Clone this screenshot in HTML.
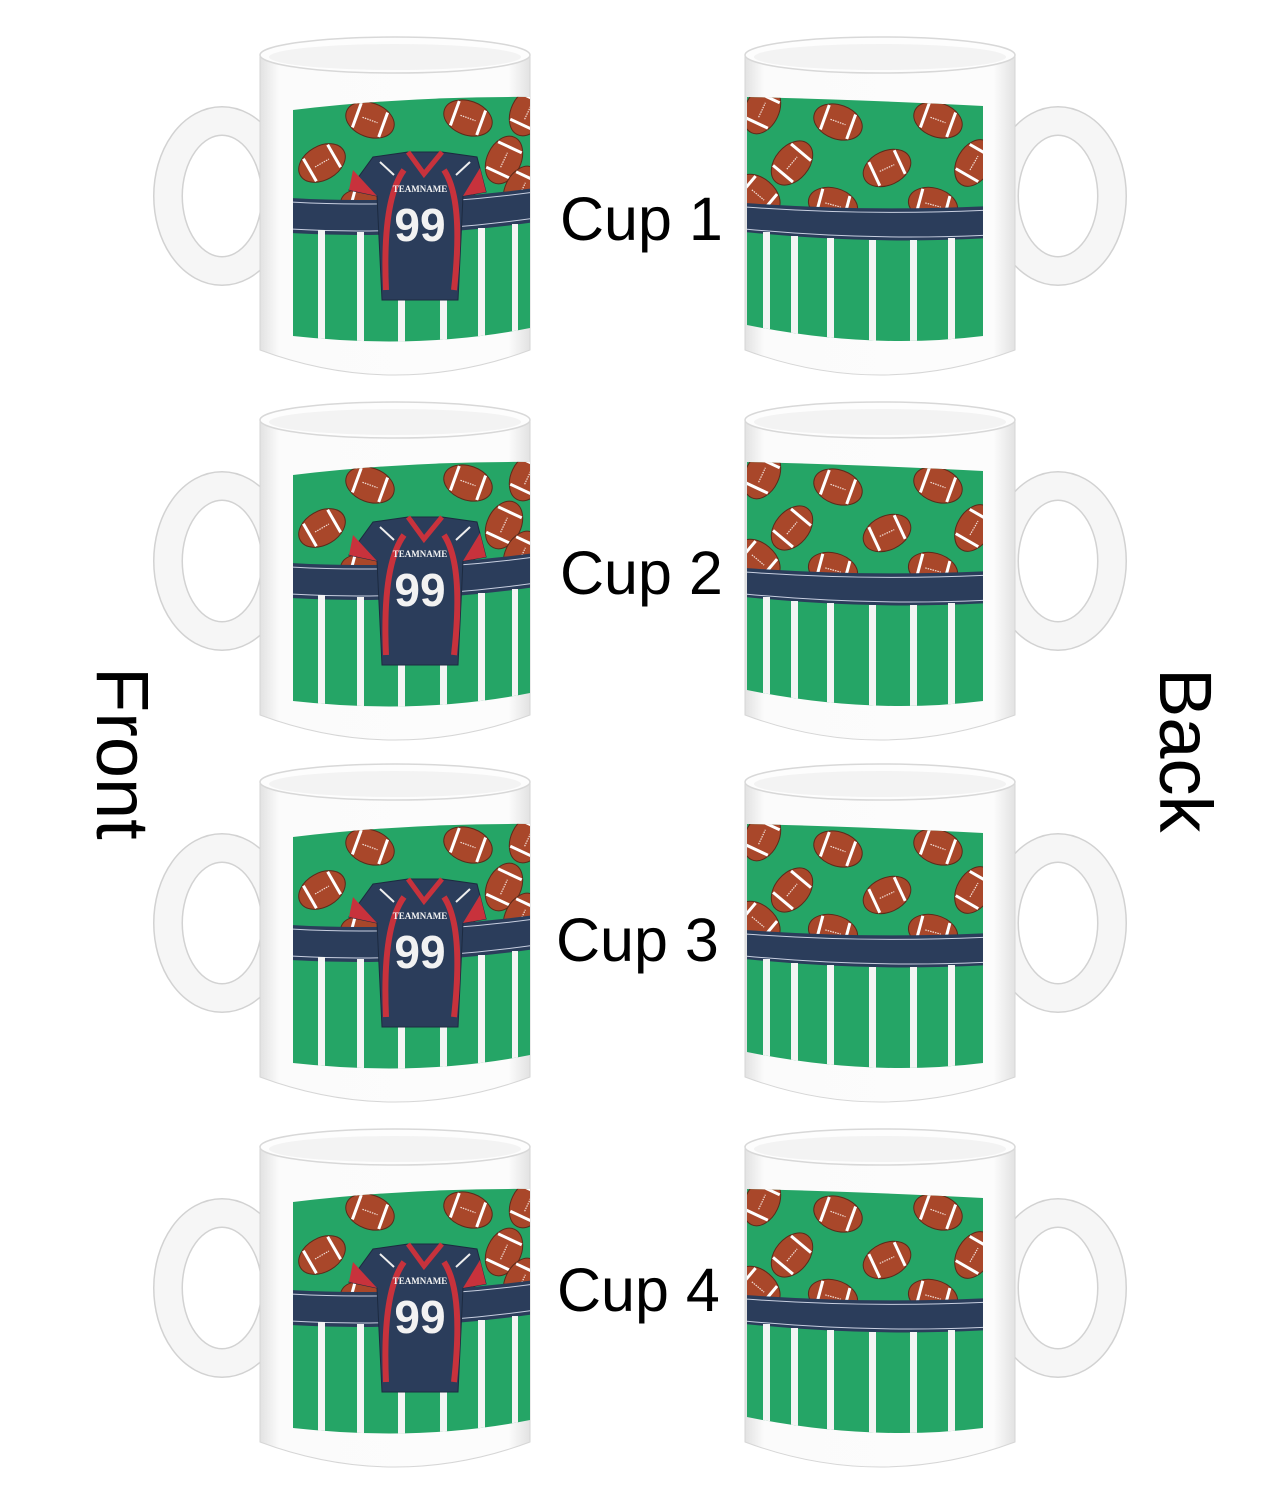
<!DOCTYPE html>
<html><head><meta charset="utf-8"><style>html,body{margin:0;padding:0;background:#fff}svg{display:block}</style></head>
<body>
<svg width="1275" height="1500" viewBox="0 0 1275 1500" xmlns="http://www.w3.org/2000/svg" font-family="Liberation Sans, sans-serif">
<defs>
  <linearGradient id="body" x1="0" x2="1" y1="0" y2="0">
    <stop offset="0" stop-color="#e2e2e2"/><stop offset="0.07" stop-color="#fbfbfb"/><stop offset="0.92" stop-color="#fcfcfc"/><stop offset="1" stop-color="#e2e2e2"/>
  </linearGradient>
  <g id="ball">
    <ellipse rx="25" ry="17" fill="#a9472a" stroke="#5a2a1a" stroke-width="1"/>
    <line x1="-14" y1="-13" x2="-14" y2="13" stroke="#fff" stroke-width="3"/>
    <line x1="14" y1="-13" x2="14" y2="13" stroke="#fff" stroke-width="3"/>
    <line x1="-8" y1="0" x2="8" y2="0" stroke="#f3e0d8" stroke-width="1.2" stroke-dasharray="1.5,1"/>
  </g>
  <clipPath id="fclip"><path d="M293,110 Q410,96 530,97 L530,328 Q420,350 293,336 Z"/></clipPath>
  <clipPath id="bclip"><path d="M747,97 Q870,100 983,106 L983,336 Q870,350 747,325 Z"/></clipPath>
  <g id="front">
    <ellipse cx="222" cy="196" rx="54" ry="75" fill="none" stroke="#d2d2d2" stroke-width="30"/>
    <ellipse cx="222" cy="196" rx="54" ry="75" fill="none" stroke="#f6f6f6" stroke-width="27"/>
    <path d="M260,55 L260,350 Q395,400 530,350 L530,55 Z" fill="url(#body)" stroke="#d6d6d6" stroke-width="1"/>
    <ellipse cx="395" cy="55" rx="135" ry="18" fill="#fdfdfd" stroke="#d8d8d8" stroke-width="1.5"/>
    <ellipse cx="395" cy="57" rx="126" ry="13" fill="#f3f3f3"/>
    <g clip-path="url(#fclip)">
      <rect x="290" y="90" width="245" height="270" fill="#25a566"/>
      <use href="#ball" transform="translate(322,163) rotate(-30)"/>
      <use href="#ball" transform="translate(370,120) rotate(20)"/>
      <use href="#ball" transform="translate(468,118) rotate(20)"/>
      <use href="#ball" transform="translate(504,160) rotate(-65)"/>
      <use href="#ball" transform="translate(528,112) rotate(-65)"/>
      <use href="#ball" transform="translate(522,190) rotate(-65)"/>
      <use href="#ball" transform="translate(365,207) rotate(15)"/>
      <use href="#ball" transform="translate(462,208) rotate(15)"/>
      <path d="M290,198 Q410,205 535,188 L535,222 Q410,240 290,233 Z" fill="#2b3d5b"/>
      <path d="M290,202 Q410,209 535,192" fill="none" stroke="#c8cfe0" stroke-width="1"/>
      <path d="M290,229 Q410,236 535,218" fill="none" stroke="#c8cfe0" stroke-width="1"/>
      <g fill="#f4f4f4">
        <rect x="318" y="230" width="7" height="120"/><rect x="357" y="232" width="7" height="120"/>
        <rect x="398" y="232" width="7" height="120"/><rect x="440" y="232" width="7" height="120"/>
        <rect x="478" y="228" width="7" height="120"/><rect x="512" y="224" width="6" height="120"/>
      </g>
      <path d="M373,157 L408,152 L442,152 L477,157 L486,192 L463,196 L458,300 L382,300 L377,196 L349,190 Z" fill="#2b3d5b" stroke="#1c2a40" stroke-width="1"/>
      <path d="M349,190 L353,170 L377,196 Z" fill="#c8323c"/>
      <path d="M486,192 L480,168 L463,196 Z" fill="#c8323c"/>
      <path d="M408,152 L424,174 L442,152" fill="none" stroke="#c8323c" stroke-width="5"/>
      <path d="M404,170 Q382,200 386,290" fill="none" stroke="#c8323c" stroke-width="6"/>
      <path d="M444,170 Q464,200 454,290" fill="none" stroke="#c8323c" stroke-width="6"/>
      <path d="M380,162 L394,175 M470,162 L456,175" stroke="#eee" stroke-width="2"/>
    </g>
  </g>
  <g id="back">
    <ellipse cx="1058" cy="196" rx="54" ry="75" fill="none" stroke="#d2d2d2" stroke-width="30"/>
    <ellipse cx="1058" cy="196" rx="54" ry="75" fill="none" stroke="#f6f6f6" stroke-width="27"/>
    <path d="M745,55 L745,350 Q880,400 1015,350 L1015,55 Z" fill="url(#body)" stroke="#d6d6d6" stroke-width="1"/>
    <ellipse cx="880" cy="55" rx="135" ry="18" fill="#fdfdfd" stroke="#d8d8d8" stroke-width="1.5"/>
    <ellipse cx="880" cy="57" rx="126" ry="13" fill="#f3f3f3"/>
    <g clip-path="url(#bclip)">
      <rect x="745" y="90" width="245" height="270" fill="#25a566"/>
      <use href="#ball" transform="translate(762,110) rotate(-65)"/>
      <use href="#ball" transform="translate(838,122) rotate(20)"/>
      <use href="#ball" transform="translate(938,120) rotate(20)"/>
      <use href="#ball" transform="translate(792,163) rotate(-50)"/>
      <use href="#ball" transform="translate(887,168) rotate(-25)"/>
      <use href="#ball" transform="translate(974,163) rotate(-60)"/>
      <use href="#ball" transform="translate(758,195) rotate(40)"/>
      <use href="#ball" transform="translate(833,205) rotate(15)"/>
      <use href="#ball" transform="translate(933,205) rotate(15)"/>
      <path d="M745,203 Q870,212 990,206 L990,238 Q870,245 745,232 Z" fill="#2b3d5b"/>
      <path d="M745,207 Q870,216 990,210" fill="none" stroke="#c8cfe0" stroke-width="1"/>
      <path d="M745,229 Q870,241 990,235" fill="none" stroke="#c8cfe0" stroke-width="1"/>
      <g fill="#f4f4f4">
        <rect x="763" y="232" width="7" height="120"/><rect x="791" y="236" width="7" height="120"/>
        <rect x="827" y="238" width="7" height="120"/><rect x="869" y="240" width="7" height="120"/>
        <rect x="910" y="240" width="7" height="120"/><rect x="948" y="238" width="7" height="120"/>
      </g>
    </g>
  </g>
</defs>

<use href="#front"/><use href="#back"/>
<use href="#front" y="365"/><use href="#back" y="365"/>
<use href="#front" y="727"/><use href="#back" y="727"/>
<use href="#front" y="1092"/><use href="#back" y="1092"/>

<g fill="#f2f2f2" font-weight="bold" text-anchor="middle" font-family="Liberation Serif, serif">
  <text x="420" y="192" font-size="9">TEAMNAME</text>
  <text x="420" y="557" font-size="9">TEAMNAME</text>
  <text x="420" y="919" font-size="9">TEAMNAME</text>
  <text x="420" y="1284" font-size="9">TEAMNAME</text>
</g>
<g fill="#f2f2f2" font-weight="bold" text-anchor="middle" font-size="46">
  <text x="420" y="241">99</text>
  <text x="420" y="606">99</text>
  <text x="420" y="968">99</text>
  <text x="420" y="1333">99</text>
</g>

<g fill="#000" font-size="61">
  <text x="560" y="240">Cup 1</text>
  <text x="560" y="594">Cup 2</text>
  <text x="556" y="961">Cup 3</text>
  <text x="557" y="1311">Cup 4</text>
</g>
<text transform="translate(97,667) rotate(90)" font-size="74" fill="#000">Front</text>
<text transform="translate(1160,668) rotate(90)" font-size="74" fill="#000">Back</text>
</svg>
</body></html>
